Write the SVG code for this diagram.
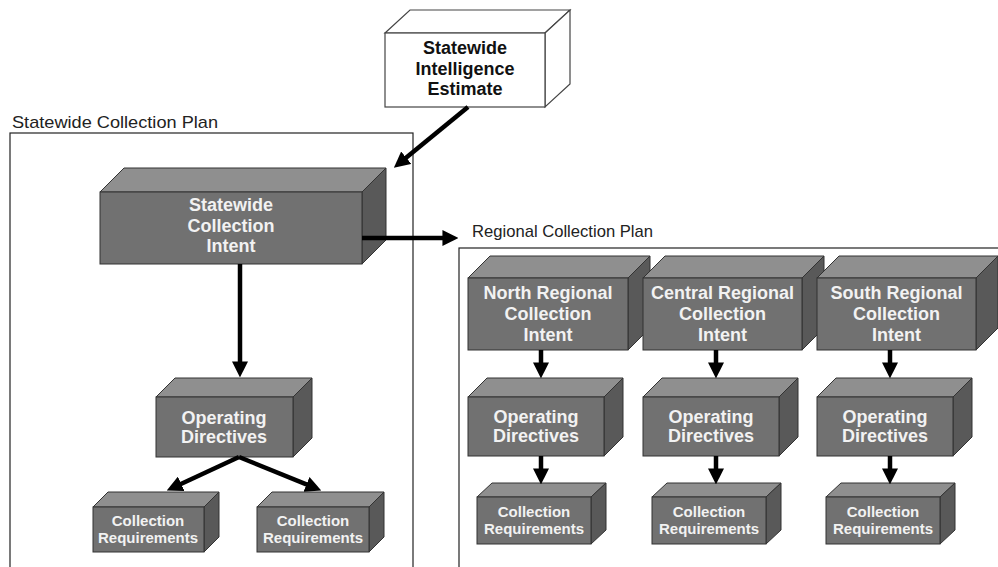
<svg xmlns="http://www.w3.org/2000/svg" width="998" height="567" viewBox="0 0 998 567">
<style>
.frame{fill:none;stroke:#222;stroke-width:1.2}
.flabel{font-family:"Liberation Sans",Arial,sans-serif;font-size:17px;fill:#222}
.front{fill:#717171;stroke:#333;stroke-width:1}
.top{fill:#8f8f8f;stroke:#333;stroke-width:1}
.side{fill:#595959;stroke:#333;stroke-width:1}
.wfront,.wtop,.wside{fill:#fff;stroke:#444;stroke-width:1.2}
.t{font-family:"Liberation Sans",Arial,sans-serif;font-weight:bold;font-size:18px;fill:#f2f2f2;text-anchor:middle}
.ts{font-family:"Liberation Sans",Arial,sans-serif;font-weight:bold;font-size:15px;fill:#f2f2f2;text-anchor:middle}
.tb{font-family:"Liberation Sans",Arial,sans-serif;font-weight:bold;font-size:18px;fill:#111;text-anchor:middle}
.c{stroke:#000;stroke-width:4.5;fill:none;marker-end:url(#ah)}
</style>
<defs>
<marker id="ah" markerUnits="userSpaceOnUse" markerWidth="16" markerHeight="16" viewBox="0 0 14 14" refX="4" refY="7" orient="auto">
<path d="M0,0 L14,7 L0,14 z" fill="#000"/>
</marker>
</defs>
<rect width="998" height="567" fill="#fff"/>

<g id="statewide-plan">
<rect class="frame" x="10" y="133" width="403" height="450"/>
<text class="flabel" x="12" y="128" textLength="206" lengthAdjust="spacingAndGlyphs">Statewide Collection Plan</text>
</g>
<g id="regional-plan">
<rect class="frame" x="459" y="248" width="560" height="340"/>
<text class="flabel" x="472" y="237" textLength="181" lengthAdjust="spacingAndGlyphs">Regional Collection Plan</text>
</g>

<g id="sie">
<polygon class="wtop" points="385,33 410,10 570,10 545,33"/>
<polygon class="wside" points="545,33 570,10 570,84 545,107"/>
<rect class="wfront" x="385" y="33" width="160" height="74"/>
<text class="tb" x="465" y="54">Statewide</text>
<text class="tb" x="465" y="75">Intelligence</text>
<text class="tb" x="465" y="95">Estimate</text>
</g>

<g id="sci">
<polygon class="top" points="100,192 124,168 386,168 362,192"/>
<polygon class="side" points="362,192 386,168 386,240 362,264"/>
<rect class="front" x="100" y="192" width="262" height="72"/>
<text class="t" x="231" y="211">Statewide</text>
<text class="t" x="231" y="232">Collection</text>
<text class="t" x="231" y="252">Intent</text>
</g>

<g id="sod">
<polygon class="top" points="156,397 175,378 312,378 293,397"/>
<polygon class="side" points="293,397 312,378 312,438 293,457"/>
<rect class="front" x="156" y="397" width="137" height="60"/>
<text class="t" x="224" y="424">Operating</text>
<text class="t" x="224" y="443">Directives</text>
</g>

<g id="scr1">
<polygon class="top" points="93,507 108,492 219,492 204,507"/>
<polygon class="side" points="204,507 219,492 219,537 204,552"/>
<rect class="front" x="93" y="507" width="111" height="45"/>
<text class="ts" x="148" y="526">Collection</text>
<text class="ts" x="148" y="543">Requirements</text>
</g>

<g id="scr2">
<polygon class="top" points="257,507 272,492 384,492 369,507"/>
<polygon class="side" points="369,507 384,492 384,537 369,552"/>
<rect class="front" x="257" y="507" width="112" height="45"/>
<text class="ts" x="313" y="526">Collection</text>
<text class="ts" x="313" y="543">Requirements</text>
</g>

<g id="nri">
<polygon class="top" points="468,278 490,256 650,256 628,278"/>
<polygon class="side" points="628,278 650,256 650,328 628,350"/>
<rect class="front" x="468" y="278" width="160" height="72"/>
<text class="t" x="548" y="299">North Regional</text>
<text class="t" x="548" y="320">Collection</text>
<text class="t" x="548" y="341">Intent</text>
</g>

<g id="cri">
<polygon class="top" points="643,278 665,256 824,256 802,278"/>
<polygon class="side" points="802,278 824,256 824,328 802,350"/>
<rect class="front" x="643" y="278" width="159" height="72"/>
<text class="t" x="722.5" y="299">Central Regional</text>
<text class="t" x="722.5" y="320">Collection</text>
<text class="t" x="722.5" y="341">Intent</text>
</g>

<g id="sri">
<polygon class="top" points="817,278 839,256 998,256 976,278"/>
<polygon class="side" points="976,278 998,256 998,328 976,350"/>
<rect class="front" x="817" y="278" width="159" height="72"/>
<text class="t" x="896.5" y="299">South Regional</text>
<text class="t" x="896.5" y="320">Collection</text>
<text class="t" x="896.5" y="341">Intent</text>
</g>

<g id="nod">
<polygon class="top" points="468,397 487,378 623,378 604,397"/>
<polygon class="side" points="604,397 623,378 623,437 604,456"/>
<rect class="front" x="468" y="397" width="136" height="59"/>
<text class="t" x="536" y="423">Operating</text>
<text class="t" x="536" y="442">Directives</text>
</g>
<g id="cod">
<polygon class="top" points="643,397 662,378 798,378 779,397"/>
<polygon class="side" points="779,397 798,378 798,437 779,456"/>
<rect class="front" x="643" y="397" width="136" height="59"/>
<text class="t" x="711" y="423">Operating</text>
<text class="t" x="711" y="442">Directives</text>
</g>
<g id="sod2">
<polygon class="top" points="817,397 836,378 972,378 953,397"/>
<polygon class="side" points="953,397 972,378 972,437 953,456"/>
<rect class="front" x="817" y="397" width="136" height="59"/>
<text class="t" x="885" y="423">Operating</text>
<text class="t" x="885" y="442">Directives</text>
</g>

<g id="ncr">
<polygon class="top" points="477,497 492,483 606,483 591,497"/>
<polygon class="side" points="591,497 606,483 606,530 591,544"/>
<rect class="front" x="477" y="497" width="114" height="47"/>
<text class="ts" x="534" y="517">Collection</text>
<text class="ts" x="534" y="534">Requirements</text>
</g>
<g id="ccr">
<polygon class="top" points="652,497 667,483 781,483 766,497"/>
<polygon class="side" points="766,497 781,483 781,530 766,544"/>
<rect class="front" x="652" y="497" width="114" height="47"/>
<text class="ts" x="709" y="517">Collection</text>
<text class="ts" x="709" y="534">Requirements</text>
</g>
<g id="scr3">
<polygon class="top" points="826,497 841,483 955,483 940,497"/>
<polygon class="side" points="940,497 955,483 955,530 940,544"/>
<rect class="front" x="826" y="497" width="114" height="47"/>
<text class="ts" x="883" y="517">Collection</text>
<text class="ts" x="883" y="534">Requirements</text>
</g>

<g id="connectors">
<line class="c" x1="468" y1="107" x2="402.7" y2="160.6"/>
<line class="c" x1="362" y1="238" x2="447" y2="238"/>
<line class="c" x1="240" y1="264" x2="240" y2="366"/>
<line class="c" x1="239" y1="457" x2="177.1" y2="485.8"/>
<line class="c" x1="239" y1="457" x2="310.7" y2="486.2"/>
<line class="c" x1="541" y1="350" x2="541" y2="367"/>
<line class="c" x1="716" y1="350" x2="716" y2="367"/>
<line class="c" x1="890" y1="350" x2="890" y2="367"/>
<line class="c" x1="541" y1="456" x2="541" y2="473"/>
<line class="c" x1="716" y1="456" x2="716" y2="473"/>
<line class="c" x1="890" y1="456" x2="890" y2="473"/>
</g>
</svg>
